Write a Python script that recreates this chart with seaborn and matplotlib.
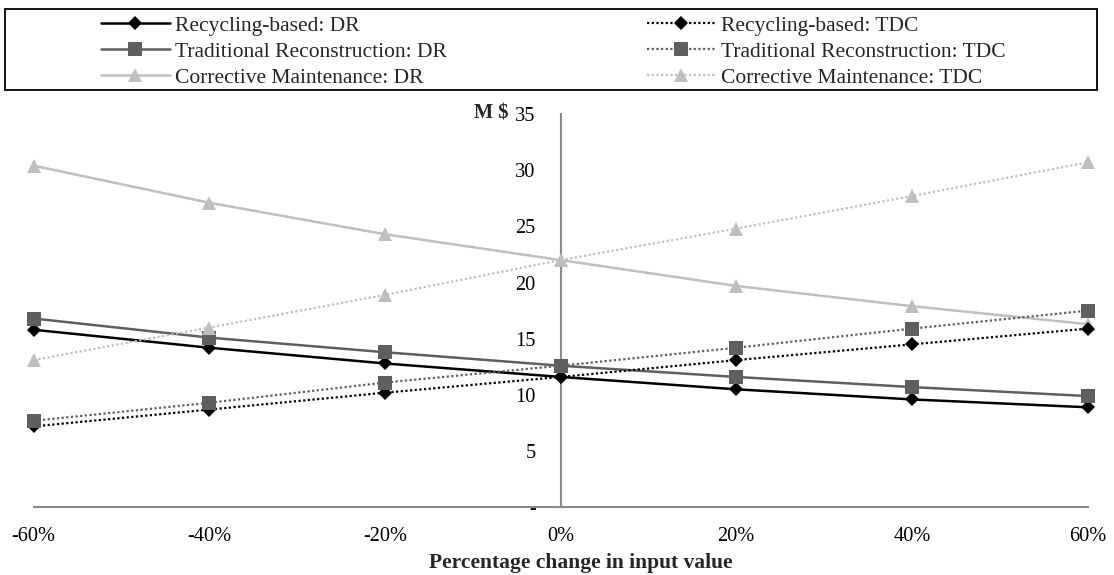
import numpy as np
import pandas as pd
import matplotlib
matplotlib.use("Agg")
import matplotlib.pyplot as plt
import matplotlib.patches as mpatches
from matplotlib.ticker import FuncFormatter, MultipleLocator
import seaborn as sns

# Sensitivity of DR and TDC (million $) to a change in the input value
changes = [-0.6, -0.4, -0.2, 0.0, 0.2, 0.4, 0.6]
rb_dr = [15.8, 14.2, 12.8, 11.6, 10.5, 9.6, 8.9]
rb_tdc = [7.2, 8.7, 10.2, 11.6, 13.1, 14.5, 15.9]
tr_dr = [16.8, 15.1, 13.8, 12.6, 11.6, 10.7, 9.9]
tr_tdc = [7.7, 9.3, 11.1, 12.6, 14.2, 15.9, 17.5]
cm_dr = [30.4, 27.1, 24.3, 22.0, 19.7, 17.9, 16.3]
cm_tdc = [13.1, 16.0, 18.9, 22.0, 24.8, 27.7, 30.7]

sns.set_theme(style="white")
plt.rcParams["font.family"] = ["Liberation Serif", "DejaVu Serif"]
FS_TICK = 14.7
FS_TEXT = 15.5

W, H = 1114, 575
fig = plt.figure(figsize=(W / 100, H / 100), dpi=100)


def fx(px):
    return px / W


def fy(py):
    return 1 - py / H


x0, x1, ytop, ybot = 33.7, 1087.5, 114, 507.3
ax = fig.add_axes([fx(x0), fy(ybot), fx(x1) - fx(x0), fy(ytop) - fy(ybot)])

BLACK, DARK, LIGHT = "#000000", "#5f5f5f", "#bfbfbf"
dotted = (0, (1, 1.1))

series = [
    ("Recycling-based: DR", rb_dr, BLACK, "-", "D", 7.0),
    ("Traditional Reconstruction: DR", tr_dr, DARK, "-", "s", 9.5),
    ("Corrective Maintenance: DR", cm_dr, LIGHT, "-", "^", 10.5),
    ("Recycling-based: TDC", rb_tdc, BLACK, dotted, "D", 7.0),
    ("Traditional Reconstruction: TDC", tr_tdc, DARK, dotted, "s", 9.5),
    ("Corrective Maintenance: TDC", cm_tdc, LIGHT, dotted, "^", 10.5),
]

handles = []
for label, vals, col, ls, mk, ms in series:
    df = pd.DataFrame({"change": changes, "value": vals})
    sns.lineplot(data=df, x="change", y="value", ax=ax, color=col,
                 linestyle=ls, linewidth=1.8 if ls == "-" else 1.6,
                 marker=mk, markersize=ms, markeredgewidth=0,
                 markerfacecolor=col, label=label, legend=False, clip_on=False)
    handles.append(ax.lines[-1])

ax.set_xlim(-0.6, 0.6)
ax.set_ylim(0, 35)
ax.xaxis.set_major_locator(MultipleLocator(0.2))
ax.yaxis.set_major_locator(MultipleLocator(5))
ax.xaxis.set_major_formatter(FuncFormatter(lambda v, p: f"{v * 100:.0f}%"))
ax.yaxis.set_major_formatter(FuncFormatter(lambda v, p: "-" if abs(v) < 1e-9 else f"{v:.0f}"))

AX_COL = "#8a8a8a"
for s in ("top", "right"):
    ax.spines[s].set_visible(False)
ax.spines["left"].set_position(("data", 0))
for s in ("left", "bottom"):
    ax.spines[s].set_color(AX_COL)
    ax.spines[s].set_linewidth(1.5)
    ax.spines[s].set_zorder(0.5)
ax.tick_params(axis="both", colors=AX_COL, labelcolor="black", labelsize=FS_TICK,
               width=1.5, length=5, direction="out")
ax.tick_params(axis="y", pad=13)
ax.tick_params(axis="x", pad=9)
ax.grid(False)
ax.set_facecolor("none")

ax.set_xlabel("Percentage change in input value", fontsize=FS_TEXT, fontweight="bold", labelpad=9)
ax.xaxis.set_label_coords((581 - x0) / (x1 - x0), -(563 - ybot) / (ybot - ytop))
ax.xaxis.label.set_va("center")
ax.set_ylabel("")
fig.text(fx(508), fy(114), "M $", ha="right", va="center", fontsize=FS_TICK, fontweight="bold")

# Legend frame spanning the top of the figure
frame = mpatches.Rectangle((fx(5), fy(90)), fx(1097) - fx(5), fy(9) - fy(90),
                           transform=fig.transFigure, fill=False,
                           edgecolor="black", linewidth=1.3)
fig.add_artist(frame)

leg_kw = dict(frameon=False, fontsize=FS_TEXT, handlelength=3.2, handletextpad=0.25,
              labelspacing=0.28, borderpad=0, borderaxespad=0, loc="upper left")
leg1 = fig.legend(handles=handles[:3], labels=[s[0] for s in series[:3]],
                  bbox_to_anchor=(fx(101), fy(15.5)), **leg_kw)
leg2 = fig.legend(handles=handles[3:], labels=[s[0] for s in series[3:]],
                  bbox_to_anchor=(fx(647), fy(15.5)), **leg_kw)

fig.savefig("out.png", dpi=100)
